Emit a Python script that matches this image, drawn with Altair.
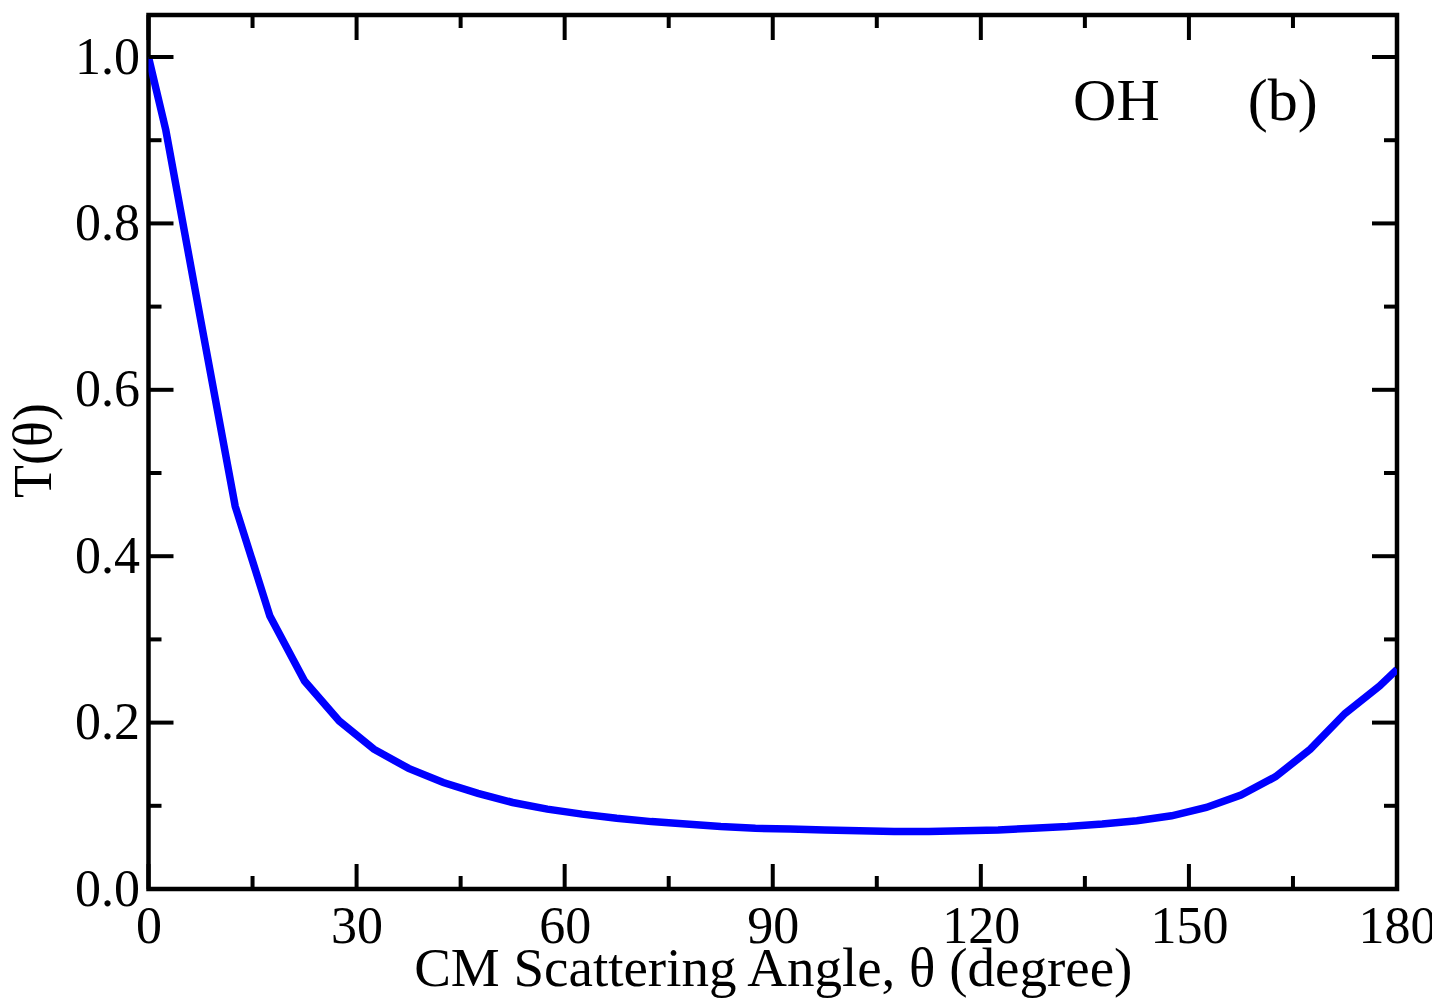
import altair as alt
import pandas as pd

# ---- data ----
angle = [0, 2.5, 7.5, 12.5, 17.5, 22.5, 27.5, 32.5, 37.5, 42.5, 47.5, 52.5,
         57.5, 62.5, 67.5, 72.5, 77.5, 82.5, 87.5, 92.5, 97.5, 102.5, 107.5,
         112.5, 117.5, 122.5, 127.5, 132.5, 137.5, 142.5, 147.5, 152.5, 157.5,
         162.5, 167.5, 172.5, 177.5, 180]
t_theta = [1.000, 0.912, 0.685, 0.460, 0.328, 0.250, 0.202, 0.168, 0.145, 0.128,
           0.115, 0.104, 0.096, 0.090, 0.085, 0.081, 0.078, 0.075, 0.073, 0.072,
           0.071, 0.070, 0.069, 0.069, 0.070, 0.071, 0.073, 0.075, 0.078, 0.082,
           0.088, 0.098, 0.113, 0.135, 0.168, 0.211, 0.244, 0.264]

x_major = [0, 30, 60, 90, 120, 150, 180]
x_minor = [15, 45, 75, 105, 135, 165]
y_major = [0.0, 0.2, 0.4, 0.6, 0.8, 1.0]
y_minor = [0.1, 0.3, 0.5, 0.7, 0.9]

labels = ["OH", "(b)"]
label_x = [133.3, 158.5]
label_y = [0.924, 0.924]

# ---- layout / style ----
W, H = 1248.5, 874
FONT = "Liberation Serif"
MAJ, MIN = 25, 13
TICKW = 4

xs = alt.Scale(domain=[0, 180], nice=False, zero=False)
ys = alt.Scale(domain=[0, 1.0505], nice=False, zero=False)

curve_df = pd.DataFrame({"angle": angle, "T": t_theta})

line = alt.Chart(curve_df).mark_line(color="#0000ff", strokeWidth=7.5, clip=True).encode(
    x=alt.X("angle:Q", scale=xs,
            axis=alt.Axis(values=x_major, ticks=False, domain=False, grid=False,
                          labelFont=FONT, labelFontSize=52, labelColor="black",
                          labelPadding=12, labelFlush=False, labelOverlap=False,
                          title="CM Scattering Angle, θ (degree)",
                          titleFont=FONT, titleFontSize=55, titleFontWeight="normal",
                          titleColor="black", titleBaseline="alphabetic", titleY=96)),
    y=alt.Y("T:Q", scale=ys,
            axis=alt.Axis(values=y_major, format=".1f", ticks=False, domain=False,
                          grid=False, labelFont=FONT, labelFontSize=52,
                          labelColor="black", labelPadding=9, labelFlush=False,
                          labelOverlap=False,
                          title="T(θ)", titleFont=FONT, titleFontSize=54,
                          titleFontWeight="normal", titleColor="black",
                          titleAngle=-90, titleBaseline="alphabetic",
                          titleX=-98, titleY=435)),
)

def xticks(vals, length, top):
    df = pd.DataFrame({"v": vals})
    if top:
        y1, y2 = 0, length
    else:
        y1, y2 = H, H - length
    return alt.Chart(df).mark_rule(color="black", strokeWidth=TICKW).encode(
        x=alt.X("v:Q", scale=xs), y=alt.value(y1), y2=alt.value(y2))

def yticks(vals, length, right):
    df = pd.DataFrame({"v": vals})
    if right:
        x1, x2 = W, W - length
    else:
        x1, x2 = 0, length
    return alt.Chart(df).mark_rule(color="black", strokeWidth=TICKW).encode(
        y=alt.Y("v:Q", scale=ys), x=alt.value(x1), x2=alt.value(x2))

ticks = [
    xticks(x_major, MAJ, False), xticks(x_minor, MIN, False),
    xticks(x_major, MAJ, True), xticks(x_minor, MIN, True),
    yticks(y_major, MAJ, False), yticks(y_minor, MIN, False),
    yticks(y_major, MAJ, True), yticks(y_minor, MIN, True),
]

text_df = pd.DataFrame({"label": labels, "x": label_x, "y": label_y})
texts = alt.Chart(text_df).mark_text(font=FONT, fontSize=60, align="left",
                                     baseline="alphabetic", color="black").encode(
    x=alt.X("x:Q", scale=xs), y=alt.Y("y:Q", scale=ys), text="label:N")

chart = alt.layer(line, *ticks, texts).properties(
    width=W, height=H,
    background="white",
    autosize=alt.AutoSizeParams(type="none"),
    padding={"left": 140.5, "top": 7, "right": 35, "bottom": 110},
).configure_view(stroke="black", strokeWidth=4.5)

chart.save("out.html", embed_options={"renderer": "svg", "actions": False})
